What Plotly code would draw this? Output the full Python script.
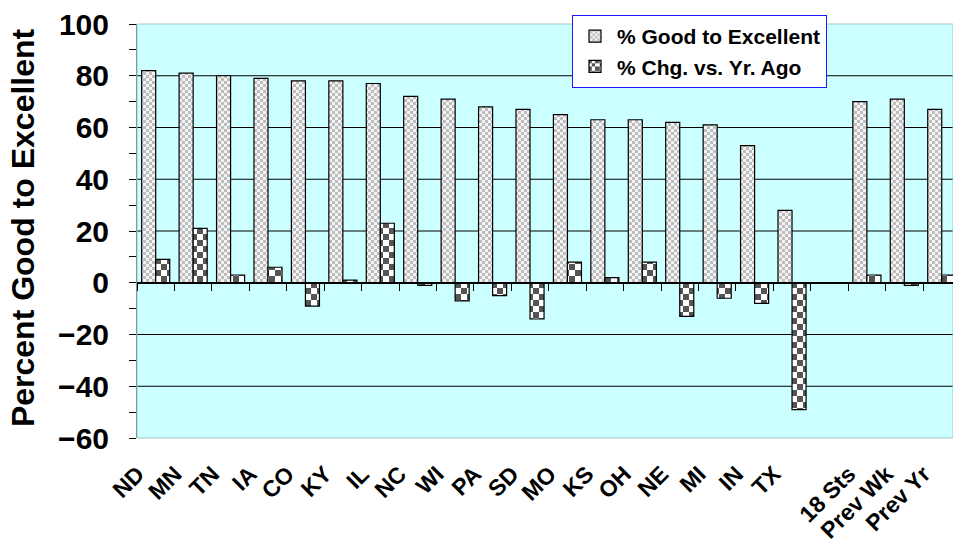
import plotly.graph_objects as go

# Crop condition by state, plus the 18-state aggregate and comparisons
states = ["ND", "MN", "TN", "IA", "CO", "KY", "IL", "NC", "WI", "PA", "SD", "MO",
          "KS", "OH", "NE", "MI", "IN", "TX", " ", "18 Sts", "Prev Wk", "Prev Yr"]
good_to_excellent = [82, 81, 80, 79, 78, 78, 77, 72, 71, 68, 67, 65,
                     63, 63, 62, 61, 53, 28, None, 70, 71, 67]
chg_vs_yr_ago = [9, 21, 3, 6, -9, 1, 23, -1, -7, -5, -14, 8,
                 2, 8, -13, -6, -8, -49, None, 3, -1, 3]
y_tick_values = [-60, -40, -20, 0, 20, 40, 60, 80, 100]
grid_values = [-40, -20, 20, 40, 60, 80]
series_names = ["% Good to Excellent", "% Chg. vs. Yr. Ago"]

FONT = "Liberation Sans, Arial, sans-serif"
W, H = 953, 550
M_L, M_R, M_T, M_B = 137, 0, 24, 112
CAT_PX = 37.43                      # width of one category slot in pixels
plot_w = W - M_L - M_R
x_range = [-0.5, -0.5 + plot_w / CAT_PX]
y_range = [y_tick_values[0], y_tick_values[-1]]
zero_frac = (0 - y_range[0]) / (y_range[1] - y_range[0])


def checker(cell, fg, bg):
    """Checkerboard fill; falls back to a dot pattern on older plotly."""
    half = cell / 2
    pat = dict(size=cell, fgcolor=fg, bgcolor=bg, fillmode="replace", solidity=1)
    if "path" in go.bar.marker.Pattern()._valid_props:
        pat["path"] = f"M0,0H{half}V{half}H0Z M{half},{half}H{cell}V{cell}H{half}Z"
    else:
        pat["shape"] = "."
        pat["solidity"] = 0.45
    return pat


fig = go.Figure()
fig.add_trace(go.Bar(
    x=states, y=good_to_excellent, name=series_names[0], legendgroup="a",
    marker=dict(color="#f2f2f2", line=dict(color="black", width=1.2),
                pattern=checker(6, "#bdbdbd", "#f4f4f4")),
))
fig.add_trace(go.Bar(
    x=states, y=chg_vs_yr_ago, name=series_names[1], legendgroup="b",
    marker=dict(color="#ffffff", line=dict(color="black", width=1.2),
                pattern=checker(12, "#555555", "#ffffff")),
))

# horizontal gridlines behind the bars
shapes = [dict(type="line", xref="paper", x0=0, x1=1, yref="y", y0=v, y1=v,
               line=dict(color="black", width=1), layer="below")
          for v in grid_values]
# plot-area frame
shapes.append(dict(type="rect", xref="paper", yref="paper", x0=0, x1=1, y0=0, y1=1,
                   line=dict(color="#a9c6c6", width=1), layer="below"))

fig.update_layout(
    width=W, height=H,
    margin=dict(l=M_L, r=M_R, t=M_T, b=M_B, autoexpand=False),
    paper_bgcolor="white", plot_bgcolor="#ccffff",
    font=dict(family=FONT, color="black"),
    barmode="group", bargap=0.25, bargroupgap=0,
    shapes=shapes,
    showlegend=True,
    legend=dict(
        xref="container", yref="container",
        x=572 / W, y=1 - 15 / H, xanchor="left", yanchor="top",
        bgcolor="white", bordercolor="#1a1aff", borderwidth=1,
        font=dict(family=FONT, size=21, color="black", weight="bold"),
        tracegroupgap=11, traceorder="normal", itemwidth=34,
    ),
    xaxis=dict(
        type="category", categoryorder="array", categoryarray=states,
        range=x_range, anchor="free", position=zero_frac,
        showline=True, linecolor="black", linewidth=1.5,
        ticks="outside", ticklen=7, tickwidth=1, tickcolor="black",
        tickson="boundaries", showgrid=False, zeroline=False,
        tickangle=-45, ticklabelstandoff=168, ticklabelshift=-18,
        tickfont=dict(family=FONT, size=23, color="black", weight="bold"),
    ),
    yaxis=dict(
        range=y_range, tickmode="array", tickvals=y_tick_values,
        showline=True, linecolor="#7f9a9a", linewidth=1,
        ticks="outside", ticklen=7, tickwidth=1, tickcolor="black",
        minor=dict(dtick=10, tick0=0, ticks="outside", ticklen=7,
                   tickcolor="black", showgrid=False),
        showgrid=False, zeroline=False, ticklabelstandoff=14,
        tickfont=dict(family=FONT, size=30, color="black", weight="bold"),
    ),
    annotations=[dict(
        text="Percent Good to Excellent", textangle=-90,
        xref="paper", yref="paper", x=(23 - M_L) / plot_w, y=0.507,
        xanchor="center", yanchor="middle", showarrow=False,
        font=dict(family=FONT, size=32, color="black", weight="bold"),
    )],
)

fig.write_html("out.html")
